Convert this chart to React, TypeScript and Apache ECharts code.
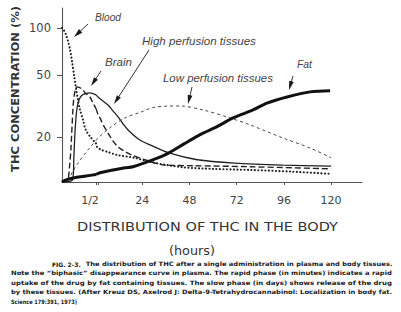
import React, { useEffect, useRef } from "react";
import * as echarts from "echarts";

// ---- data (time in hours, concentration in %) ----
// first segment of the axis: the minute phase, 0 – 1/2 h
const bloodEarlyT = [0, 0.03, 0.06, 0.09, 0.12, 0.15, 0.18, 0.21, 0.235, 0.265, 0.31, 0.35, 0.43, 0.5];
const bloodEarlyV = [100, 96, 90, 82, 72, 60, 49, 40, 34.6, 29.8, 25.7, 22.2, 19.7, 18.2];
const brainEarlyT = [0, 0.06, 0.088, 0.11, 0.13, 0.16, 0.176, 0.2, 0.22, 0.26, 0.31, 0.34, 0.41, 0.456, 0.5];
const brainEarlyV = [10.3, 10.4, 10.6, 12.8, 16.5, 29.8, 36.1, 40.5, 41.9, 41.4, 40, 38.3, 36.1, 33.0, 30.4];
const highEarlyT = [0, 0.12, 0.16, 0.175, 0.19, 0.21, 0.235, 0.27, 0.31, 0.36, 0.41, 0.5];
const highEarlyV = [10.3, 10.4, 10.8, 15, 21, 28, 33, 36, 37.4, 38.1, 38.3, 37.2];
const lowEarlyT = [0, 0.088, 0.16, 0.235, 0.31, 0.38, 0.5];
const lowEarlyV = [10.3, 10.6, 12.1, 13.6, 15.1, 16.5, 19.0];
const fatEarlyT = [0, 0.05, 0.2, 0.35, 0.5];
const fatEarlyV = [10.3, 10.6, 11.0, 11.25, 11.5];

// second segment: the hour phase, 1/2 – 120 h
const bloodLateT = [0.5, 1, 3, 6.6, 11.7, 20.3, 28.5, 44.7, 60, 78.8, 100, 120];
const bloodLateV = [18.2, 17.3, 16.6, 16.0, 15.3, 14.7, 13.8, 12.8, 12.5, 12.3, 12.0, 11.6];
const brainLateT = [0.5, 1.5, 2.5, 4.5, 6.6, 9.2, 11.7, 15, 18.8, 25.4, 35.6, 50, 78.8, 120];
const brainLateV = [30.4, 28.0, 26.5, 23.5, 21.2, 18.8, 17.3, 16.2, 15.3, 14.3, 13.2, 13.1, 12.9, 12.5];
const highLateT = [0.5, 1.5, 4, 6.6, 9, 11.7, 14, 16.8, 22.4, 28, 37.6, 52, 71, 95.5, 120];
const highLateV = [37.2, 36.1, 34, 32.1, 29.5, 26.9, 24.5, 22.2, 19.3, 17.8, 15.8, 14.3, 13.6, 13.2, 13.0];
const lowLateT = [0.5, 1.5, 8.1, 15.2, 23.4, 29.5, 36, 43.2, 54.9, 68.6, 78.8, 95.6, 109.3, 120];
const lowLateV = [19.0, 19.7, 23.2, 26.5, 28.9, 30.9, 31.5, 31.6, 29.8, 26.5, 23.9, 19.7, 17.0, 14.7];
const fatLateT = [0.5, 2.5, 15.2, 19.3, 32, 36.6, 45, 53.4, 62, 70.2, 80.3, 87.4, 97.6, 109.3, 119.5];
const fatLateV = [11.5, 11.8, 12.7, 12.9, 14.7, 15.6, 18.0, 20.7, 23.3, 26.5, 29.8, 33.0, 36.1, 38.9, 39.5];

// tick labels
const yTicks = [20, 50, 100];
const xEarlyTicks = [0.5];
const xEarlyLabels = ["1/2"];
const xLateTicks = [1.5, 24, 48, 72, 96, 120];
const xLateLabels = [24, 48, 72, 96, 120];

const captionLines = [
  "Note the \u201Cbiphasic\u201D disappearance curve in plasma. The rapid phase (in minutes) indicates a rapid",
  "uptake of the drug by fat containing tissues. The slow phase (in days) shows release of the drug",
  "by these tissues. (After Kreuz DS, Axelrod J: Delta-9-Tetrahydrocannabinol: Localization in body fat.",
];

const INK = "#222";

function measure(text: string, font: string): number {
  const c = document.createElement("canvas").getContext("2d");
  if (!c) return text.length * 6;
  c.font = font;
  return c.measureText(text).width;
}

function fitText(
  text: string,
  x: number,
  y: number,
  width: number | null,
  size: number,
  opts: { family?: string; weight?: string; style?: string; align?: string; rotation?: number; fill?: string } = {}
) {
  const family = opts.family || "DejaVu Sans";
  const weight = opts.weight || "normal";
  const fstyle = opts.style || "normal";
  const font = `${fstyle} ${weight} ${size}px "${family}"`;
  const w = measure(text, font);
  const sx = width ? width / w : 1;
  const align = opts.align || "left";
  return {
    type: "text",
    x,
    y,
    scaleX: sx,
    rotation: opts.rotation || 0,
    silent: true,
    style: {
      text,
      fontSize: size,
      fontFamily: family,
      fontWeight: weight,
      fontStyle: fstyle,
      fill: opts.fill || INK,
      align,
      textAlign: align,
      verticalAlign: "middle",
      textVerticalAlign: "middle",
    },
  };
}

function arrow(x1: number, y1: number, x2: number, y2: number) {
  const dx = x2 - x1;
  const dy = y2 - y1;
  const len = Math.sqrt(dx * dx + dy * dy);
  const ux = dx / len;
  const uy = dy / len;
  const L = 9;
  const W = 2.4;
  const bx = x2 - ux * L;
  const by = y2 - uy * L;
  return [
    { type: "line", silent: true, shape: { x1, y1, x2: bx + ux * 2, y2: by + uy * 2 }, style: { stroke: "#333", lineWidth: 1 } },
    {
      type: "polygon",
      silent: true,
      shape: { points: [[x2, y2], [bx - uy * W, by + ux * W], [bx + uy * W, by - ux * W]] },
      style: { fill: "#1a1a1a" },
    },
  ];
}

function pairs(t: number[], v: number[]) {
  return t.map((x, i) => [x, v[i]]);
}

export default function App() {
  const ref = useRef<HTMLDivElement>(null);
  useEffect(() => {
    if (!ref.current) return;
    const chart = echarts.init(ref.current, undefined, { renderer: "svg" });
    const axisLine = { show: true, lineStyle: { color: "#555", width: 1.1 } };
    const labelStyle = { color: "#444", fontFamily: "DejaVu Sans", fontSize: 11 };

    const styles: Record<string, any> = {
      blood: { color: INK, width: 2.1, type: [0.1, 3.4], cap: "round" },
      brain: { color: INK, width: 1.4, type: [6, 3] },
      high: { color: INK, width: 1.3, type: "solid" },
      low: { color: "#333", width: 0.9, type: [3, 3] },
      fat: { color: "#111", width: 3, type: "solid" },
    };
    const line = (name: string, idx: number, t: number[], v: number[]) => ({
      type: "line",
      name,
      xAxisIndex: idx,
      yAxisIndex: idx,
      data: pairs(t, v),
      symbol: "none",
      showSymbol: false,
      smooth: 0.3,
      clip: true,
      lineStyle: styles[name],
      silent: true,
    });

    const figFont = 'normal bold 6px "DejaVu Sans"';
    const figW = measure("FIG. 2-3.", figFont);
    const restX = 52 + figW + 5;

    const graphics: any[] = [
      fitText("THC CONCENTRATION (%)", 16, 89, 166, 10, { weight: "bold", align: "center", rotation: Math.PI / 2, fill: "#333" }),
      fitText("DISTRIBUTION OF THC IN THE BODY", 207.5, 226, 261, 13, { align: "center", fill: "#333" }),
      fitText("(hours)", 192, 250, 46, 13, { align: "center", fill: "#333" }),
      fitText("Blood", 95, 18, 26, 10, { family: "Liberation Sans", style: "italic", fill: "#444" }),
      fitText("Brain", 105, 62, 27, 10, { family: "Liberation Sans", style: "italic", fill: "#444" }),
      fitText("High perfusion tissues", 142, 41, 114, 10, { family: "Liberation Sans", style: "italic", fill: "#444" }),
      fitText("Low perfusion tissues", 163, 78, 110, 10, { family: "Liberation Sans", style: "italic", fill: "#444" }),
      fitText("Fat", 297, 65, 15, 10, { family: "Liberation Sans", style: "italic", fill: "#444" }),
      ...arrow(88, 24, 74, 37),
      ...arrow(101, 71, 91, 86),
      ...arrow(149, 50, 114, 104),
      ...arrow(192, 87, 188, 104),
      ...arrow(293, 76, 289, 90),
      fitText("FIG. 2-3.", 52, 264, null, 6, { weight: "bold", fill: "#111" }),
      fitText("The distribution of THC after a single administration in plasma and body tissues.", restX, 264, 393 - restX, 6, { weight: "bold", fill: "#1a1a1a" }),
      ...captionLines.map((s, i) => fitText(s, 11, 273.5 + i * 9.5, 382, 6, { weight: "bold", fill: "#1a1a1a" })),
      fitText("Science 179:391, 1973)", 11, 302, 66, 6, { weight: "bold", fill: "#1a1a1a" }),
    ];

    chart.setOption({
      animation: false,
      backgroundColor: "#ffffff",
      grid: [
        { left: 62, top: 8, width: 34, height: 174 },
        { left: 96, top: 8, width: 266, height: 174 },
      ],
      xAxis: [
        {
          type: "value",
          gridIndex: 0,
          min: 0,
          max: 0.5,
          axisLine,
          splitLine: { show: false },
          axisTick: { show: true, customValues: xEarlyTicks, length: 3, lineStyle: { color: "#555" } },
          axisLabel: {
            ...labelStyle,
            customValues: xEarlyTicks,
            formatter: (v: number) => xEarlyLabels[xEarlyTicks.indexOf(v)] ?? "",
            margin: 13,
            padding: [0, 12, 0, 0],
          },
        },
        {
          type: "value",
          gridIndex: 1,
          min: 0.5,
          max: 135.7,
          axisLine,
          splitLine: { show: false },
          axisTick: { show: true, customValues: xLateTicks, length: 3, lineStyle: { color: "#555" } },
          axisLabel: { ...labelStyle, customValues: xLateLabels, margin: 13 },
        },
      ],
      yAxis: [
        {
          type: "log",
          gridIndex: 0,
          min: 10.3,
          max: 134,
          axisLine,
          splitLine: { show: false },
          minorTick: { show: false },
          axisTick: { show: true, customValues: yTicks, length: 5, lineStyle: { color: "#555" } },
          axisLabel: { ...labelStyle, fontSize: 11.5, customValues: yTicks, margin: 11 },
        },
        { type: "log", gridIndex: 1, min: 10.3, max: 134, show: false, splitLine: { show: false } },
      ],
      series: [
        line("blood", 0, bloodEarlyT, bloodEarlyV),
        line("blood", 1, bloodLateT, bloodLateV),
        line("brain", 0, brainEarlyT, brainEarlyV),
        line("brain", 1, brainLateT, brainLateV),
        line("high", 0, highEarlyT, highEarlyV),
        line("high", 1, highLateT, highLateV),
        line("low", 0, lowEarlyT, lowEarlyV),
        line("low", 1, lowLateT, lowLateV),
        line("fat", 0, fatEarlyT, fatEarlyV),
        line("fat", 1, fatLateT, fatLateV),
      ],
      graphic: graphics,
    });
    return () => chart.dispose();
  }, []);
  return (
    <div
      ref={ref}
      style={{ position: "absolute", left: 0, top: 0, width: 401, height: 312, background: "#fff" }}
    />
  );
}
